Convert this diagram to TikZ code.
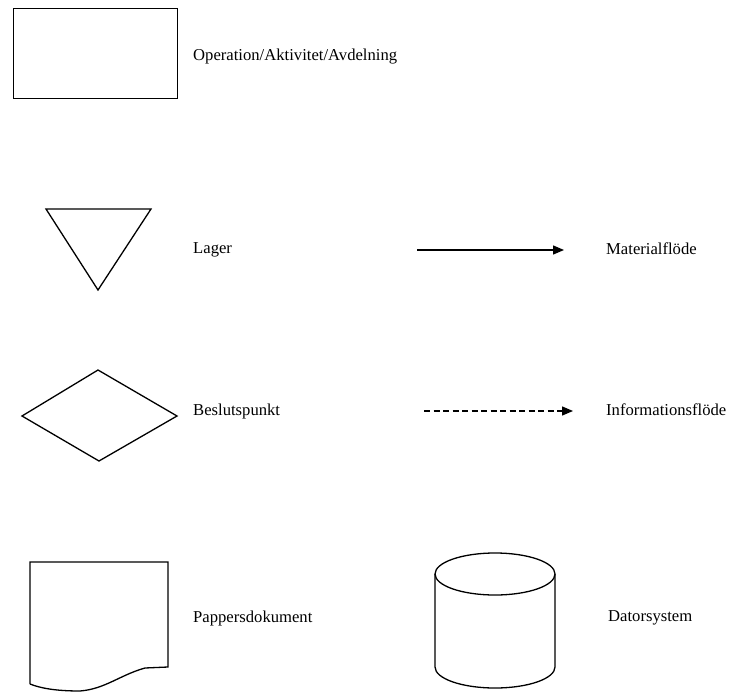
\documentclass[tikz,border=0pt]{standalone}
\usepackage{fontspec}
\setmainfont{Liberation Serif}
\usetikzlibrary{arrows.meta}
\begin{document}
\begin{tikzpicture}[x=1bp,y=-1bp,
  shapeline/.style={draw=black,line width=1.3bp,line join=miter},
  label/.style={anchor=west,inner sep=0pt,font=\fontsize{16.7}{19}\selectfont},
  flow/.style={line width=1.3bp,-{Triangle[length=11bp,width=9bp]}},
  infoflow/.style={flow,dash pattern=on 6bp off 3.5bp}]
\useasboundingbox (0,0) rectangle (732,692);

% operation box
\node[shapeline,minimum width=164bp,minimum height=90bp,inner sep=0pt,anchor=north west] (op) at (13,8) {};
\node[label] (opt) at (193,57) {Operation/Aktivitet/Avdelning};

% storage triangle
\draw[shapeline] (46,209) coordinate (lagA) -- (151,209) coordinate (lagB) -- (98,290) coordinate (lagC) -- cycle;
\node[label] (lagt) at (193,250) {Lager};

% decision diamond
\draw[shapeline] (22,416) coordinate (dL) -- (98,370) coordinate (dT) -- (177,416) coordinate (dR) -- (99,461) coordinate (dB) -- cycle;
\node[label] (dect) at (193,411) {Beslutspunkt};

% paper document
\draw[shapeline] (30,684) coordinate (docBL) -- (30,562) coordinate (docTL) -- (168,562) coordinate (docTR) -- (168,667) coordinate (docBR)
  -- (145,668) .. controls (120,675) and (105,689) .. (80,691) .. controls (55,691) and (40,688) .. (docBL);
\node[label] (doct) at (193,618) {Pappersdokument};

% database cylinder
\draw[shapeline] (495,574) ellipse [x radius=60bp,y radius=21bp];
\draw[shapeline] (435,574) coordinate (cylL) -- (435,667) arc[start angle=180,end angle=360,x radius=60bp,y radius=21bp] -- (555,574) coordinate (cylR);
\node[label] (cylt) at (608,618) {Datorsystem};

% flows
\coordinate (m1) at (417,250);
\coordinate (m2) at (564,250);
\draw[flow] (m1) -- (m2);
\node[label] (matt) at (606,249) {Materialflöde};

\coordinate (i1) at (424,411);
\coordinate (i2) at (573,411);
\draw[infoflow] (i1) -- (i2);
\node[label] (inft) at (606,410) {Informationsflöde};
\end{tikzpicture}
\end{document}
